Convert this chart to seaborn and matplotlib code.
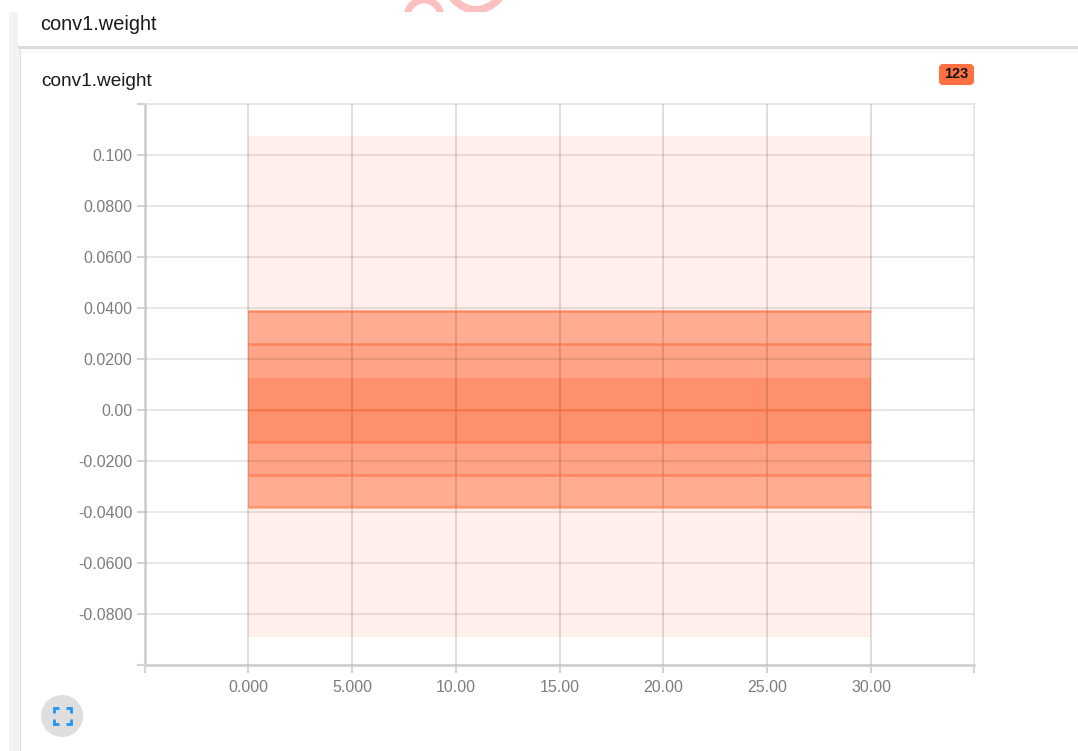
import matplotlib
matplotlib.use("Agg")
import matplotlib.pyplot as plt
import pandas as pd
import seaborn as sns
from matplotlib.patches import Arc, Circle, FancyBboxPatch, PathPatch, Rectangle
from matplotlib.path import Path

TITLE = "conv1.weight"
RUN_COUNT = "123"

# steps of the run
steps = [0, 5, 10, 15, 20, 25, 30]

# percentile curves, all flat over the run
p_max = [0.1075, 0.1075, 0.1075, 0.1075, 0.1075, 0.1075, 0.1075]
p_93 = [0.0388, 0.0388, 0.0388, 0.0388, 0.0388, 0.0388, 0.0388]
p_84 = [0.0259, 0.0259, 0.0259, 0.0259, 0.0259, 0.0259, 0.0259]
p_69 = [0.0125, 0.0125, 0.0125, 0.0125, 0.0125, 0.0125, 0.0125]
p_50 = [0.0, 0.0, 0.0, 0.0, 0.0, 0.0, 0.0]
p_31 = [-0.0125, -0.0125, -0.0125, -0.0125, -0.0125, -0.0125, -0.0125]
p_16 = [-0.0255, -0.0255, -0.0255, -0.0255, -0.0255, -0.0255, -0.0255]
p_7 = [-0.0380, -0.0380, -0.0380, -0.0380, -0.0380, -0.0380, -0.0380]
p_min = [-0.0890, -0.0890, -0.0890, -0.0890, -0.0890, -0.0890, -0.0890]

x_ticks = [0, 5, 10, 15, 20, 25, 30]
x_labels = ["0.000", "5.000", "10.00", "15.00", "20.00", "25.00", "30.00"]
y_ticks = [0.1, 0.08, 0.06, 0.04, 0.02, 0.0, -0.02, -0.04, -0.06, -0.08]
y_labels = ["0.100", "0.0800", "0.0600", "0.0400", "0.0200", "0.00",
            "-0.0200", "-0.0400", "-0.0600", "-0.0800"]

ORANGE = "#ff7043"
TICK_COLOR = "#d4d4d4"
TICK_TEXT = "#7d7d7d"
W, H = 1078, 751
X_MIN, X_MAX = -4.96, 34.95
Y_MIN, Y_MAX = -0.1001, 0.1200

sns.set_theme(style="white")
plt.rcParams["font.family"] = ["Liberation Sans", "DejaVu Sans"]

fig = plt.figure(figsize=(W / 100, H / 100), dpi=100, facecolor="white")

# page furniture, drawn in pixel coordinates
page = fig.add_axes([0, 0, 1, 1])
page.set_xlim(0, W)
page.set_ylim(H, 0)
page.axis("off")

# watermark remains at the top edge, the header card cuts it off at y=12
page.add_patch(Arc((424, 17), 34, 34, ec="#fcc0c0", lw=5))
codes = [Path.MOVETO, Path.CURVE3, Path.CURVE3]
page.add_patch(PathPatch(Path([(452, -2), (476, 22), (500, -2)], codes),
                         fc="none", ec="#fcc0c0", lw=5.5))

page.add_patch(Rectangle((9, 12), 11, H - 12, fc="#f3f3f3", ec="none"))
page.add_patch(Rectangle((20, 48), W - 20, 6, fc="#fafafa", ec="none"))
page.add_patch(Rectangle((19.5, 50), 1, H - 50, fc="#dddddd", ec="none"))
page.add_patch(Rectangle((18, 12), W - 18, 35, fc="white", ec="none"))
page.add_patch(Rectangle((18, 46), W - 18, 2.5, fc="#dcdcdc", ec="none"))
page.text(40, 25, TITLE, fontsize=14.4, color="#1a1a1a", va="center")
page.text(41, 81.5, TITLE, fontsize=13.7, color="#1a1a1a", va="center")

# run badge
page.add_patch(FancyBboxPatch((940, 65), 33, 19, boxstyle="round,pad=0,rounding_size=3",
                              mutation_aspect=1, fc=ORANGE, ec=ORANGE, lw=1.5))
page.text(956.5, 74.5, RUN_COUNT, fontsize=10.5, fontweight="bold", color="#141414",
          ha="center", va="center")

# expand button
page.add_patch(Circle((62, 716), 21, fc="#dedede", ec="none"))
for cx, cy, sx, sy in [(54, 708, 1, 1), (71, 708, -1, 1), (54, 724, 1, -1), (71, 724, -1, -1)]:
    page.plot([cx + 5 * sx, cx, cx], [cy, cy, cy + 5 * sy], color="#2196f3", lw=2,
              solid_joinstyle="miter", solid_capstyle="butt")

# chart
ax = fig.add_axes([145 / W, 1 - 665 / H, (974 - 145) / W, (665 - 104) / H])
ax.patch.set_alpha(0)

df = pd.DataFrame({
    "step": steps, "p_max": p_max, "p_93": p_93, "p_84": p_84, "p_69": p_69,
    "p_50": p_50, "p_31": p_31, "p_16": p_16, "p_7": p_7, "p_min": p_min,
})

ax.fill_between(df["step"], df["p_min"], df["p_max"], color=ORANGE, alpha=0.10, lw=0, zorder=1)
ax.fill_between(df["step"], df["p_7"], df["p_93"], color=ORANGE, alpha=0.53, lw=0, zorder=1.1)
ax.fill_between(df["step"], df["p_16"], df["p_84"], color=ORANGE, alpha=0.15, lw=0, zorder=1.2)
ax.fill_between(df["step"], df["p_31"], df["p_69"], color=ORANGE, alpha=0.36, lw=0, zorder=1.3)

long_df = df.melt(id_vars="step", value_vars=["p_93", "p_84", "p_50", "p_31", "p_16", "p_7"],
                  var_name="percentile", value_name="weight")
sns.lineplot(data=long_df, x="step", y="weight", units="percentile", estimator=None,
             color=ORANGE, alpha=0.65, lw=1.8, ax=ax, zorder=3, legend=False,
             solid_capstyle="butt")

ax.set_xlim(X_MIN, X_MAX)
ax.set_ylim(Y_MIN, Y_MAX)
ax.set_xticks([X_MIN] + x_ticks + [X_MAX])
ax.set_xticklabels([""] + x_labels + [""])
ax.set_yticks([Y_MIN] + y_ticks + [Y_MAX])
ax.set_yticklabels([""] + y_labels + [""])
ax.set_xlabel("")
ax.set_ylabel("")
ax.tick_params(axis="x", length=6, width=1.5, color=TICK_COLOR, labelcolor=TICK_TEXT,
               labelsize=11.5, pad=5, bottom=True)
ax.tick_params(axis="y", length=6, width=1.5, color=TICK_COLOR, labelcolor=TICK_TEXT,
               labelsize=11.5, pad=3, left=True)
ax.set_axisbelow(False)
ax.grid(True, axis="y", color="black", alpha=0.11, lw=1.2)
ax.grid(True, axis="x", color="black", alpha=0.16, lw=1.1)
# the end ticks sit on the frame, no grid line there
for gridlines in (ax.get_xgridlines(), ax.get_ygridlines()):
    gridlines[0].set_visible(False)
    gridlines[-1].set_visible(False)
for side in ["top", "right"]:
    ax.spines[side].set_color("#e2e2e2")
    ax.spines[side].set_linewidth(1.2)
for side in ["left", "bottom"]:
    ax.spines[side].set_color("#cccccc")
    ax.spines[side].set_linewidth(1.8)

fig.savefig("out.png", dpi=100)
